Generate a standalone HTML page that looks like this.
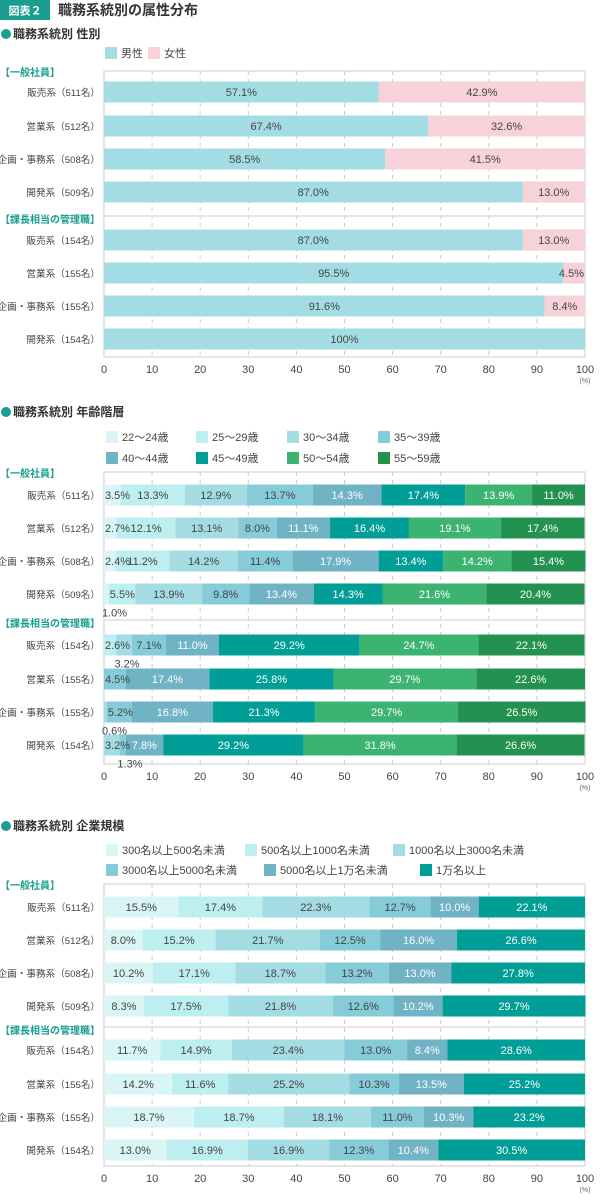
<!DOCTYPE html>
<html><head><meta charset="utf-8">
<style>
html,body{margin:0;padding:0;background:#fff;}
svg{display:block;font-family:"Liberation Sans","Noto Sans CJK JP",sans-serif;}
</style></head>
<body>
<svg id="svg" width="600" height="1204" viewBox="0 0 600 1204" xmlns="http://www.w3.org/2000/svg">
<rect x="0" y="0" width="50" height="20" fill="#1a9e8f"/>
<text x="25" y="14.5" fill="#fff" font-size="11" text-anchor="middle" font-weight="bold">図表２</text>
<text x="58" y="15" fill="#333" font-size="14" font-weight="bold">職務系統別の属性分布</text>
</svg>
<script>
const rowLabels = ["販売系（511名）","営業系（512名）","企画・事務系（508名）","開発系（509名）","販売系（154名）","営業系（155名）","企画・事務系（155名）","開発系（154名）"];
const xTicks = [0,10,20,30,40,50,60,70,80,90,100];

const genderSeries = ["男性","女性"];
const genderMale = [57.1,67.4,58.5,87.0,87.0,95.5,91.6,100];
const genderFemale = [42.9,32.6,41.5,13.0,13.0,4.5,8.4,0];

const ageSeries = ["22～24歳","25～29歳","30～34歳","35～39歳","40～44歳","45～49歳","50～54歳","55～59歳"];
const age22 = [3.5,2.7,2.4,1.0,0,0,0,0];
const age25 = [13.3,12.1,11.2,5.5,2.6,0,0,0];
const age30 = [12.9,13.1,14.2,13.9,3.2,0,0.6,3.2];
const age35 = [13.7,8.0,11.4,9.8,7.1,4.5,5.2,1.3];
const age40 = [14.3,11.1,17.9,13.4,11.0,17.4,16.8,7.8];
const age45 = [17.4,16.4,13.4,14.3,29.2,25.8,21.3,29.2];
const age50 = [13.9,19.1,14.2,21.6,24.7,29.7,29.7,31.8];
const age55 = [11.0,17.4,15.4,20.4,22.1,22.6,26.5,26.6];

const sizeSeries = ["300名以上500名未満","500名以上1000名未満","1000名以上3000名未満","3000名以上5000名未満","5000名以上1万名未満","1万名以上"];
const size300 = [15.5,8.0,10.2,8.3,11.7,14.2,18.7,13.0];
const size500 = [17.4,15.2,17.1,17.5,14.9,11.6,18.7,16.9];
const size1000 = [22.3,21.7,18.7,21.8,23.4,25.2,18.1,16.9];
const size3000 = [12.7,12.5,13.2,12.6,13.0,10.3,11.0,12.3];
const size5000 = [10.0,16.0,13.0,10.2,8.4,13.5,10.3,10.4];
const size10000 = [22.1,26.6,27.8,29.7,28.6,25.2,23.2,30.5];

const NS="http://www.w3.org/2000/svg";
const svg=document.getElementById('svg');
const PL=104, PR=585;
function xs(v){return PL+(PR-PL)*v/100;}
function mk(tag,attrs,parent){const e=document.createElementNS(NS,tag);for(const k in attrs)e.setAttribute(k,attrs[k]);(parent||svg).appendChild(e);return e;}
function txt(x,y,s,attrs,parent){const e=mk('text',Object.assign({x:x,y:y},attrs),parent);e.textContent=s;return e;}

function chart(cfg){
  const g=mk('g',{});
  
  
  const dot=mk('circle',{cx:6,cy:cfg.titleY-4,r:5,fill:'#1a9e8f'},g);
  
  
  const t=txt(13,cfg.titleY,cfg.title,{'font-size':12,'font-weight':'bold',fill:'#333'},g);
  
  
  cfg.series.forEach((s,i)=>{
    const p=cfg.legendPos[i];
    const sw=mk('rect',{x:p[0],y:p[1]-10,width:12,height:12,fill:cfg.colors[i]},g);
    
    
    const lt=txt(p[0]+16,p[1],s,{'font-size':11,fill:'#444'},g);
    
    
  });
  const fr=mk('rect',{x:PL,y:cfg.top,width:PR-PL,height:cfg.bottom-cfg.top,fill:'none',stroke:'#ddd','stroke-width':1.5},g);
  
  
  xTicks.forEach(v=>{
    if(v>0&&v<100){
      const l=mk('line',{x1:xs(v),x2:xs(v),y1:cfg.top,y2:cfg.bottom,stroke:'#ccc','stroke-dasharray':'4,4'},g);
      
      
    }
    const tl=txt(xs(v),cfg.bottom+16,String(v),{'font-size':11,fill:'#444','text-anchor':'middle'},g);
    
    
  });
  const un=txt(PR,cfg.bottom+26,'(%)',{'font-size':7,fill:'#666','text-anchor':'middle'},g);
  
  
  const sep=mk('line',{x1:PL,x2:PR,y1:cfg.sep,y2:cfg.sep,stroke:'#ddd','stroke-width':1.5},g);
  
  
  const g1=txt(0,cfg.top+5,'【一般社員】',{'font-size':10,'font-weight':'bold',fill:'#1a9e8f'},g);
  
  
  const g2=txt(0,cfg.sep+7,'【課長相当の管理職】',{'font-size':10,'font-weight':'bold',fill:'#1a9e8f'},g);
  
  
  const H=21;
  const labelLayer=mk('g',{},g);
  
  
  cfg.rows.forEach((lab,r)=>{
    const cy=cfg.rowY[r];
    const rl=txt(100,cy+4,lab,{'font-size':9.6,fill:'#444','text-anchor':'end'},g);
    
    
    let acc=0, prevNarrow=false;
    cfg.values.forEach((arr,i)=>{
      const v=arr[r];
      if(!v){return;}
      const x0=xs(acc),x1=xs(acc+v);
      const b=mk('rect',{x:x0,y:cy-H/2,width:x1-x0,height:H,fill:cfg.colors[i]},g);
      
      
      const s=(v===100?'100':v.toFixed(1))+'%';
      const w=x1-x0;
      let lx,ly=cy+4,anchor='middle',col=cfg.textColors[i];
      const narrow=w<28;
      if(v<2||(narrow&&prevNarrow)){lx=x0-2;ly=cy+H/2+12;anchor='start';col='#444';prevNarrow=false;}
      else if(narrow){
        if(i===cfg.values.length-1){lx=x1-1;anchor='end';}
        else {lx=x0+1;anchor='start';}
        prevNarrow=true;
      }
      else {lx=(x0+x1)/2;prevNarrow=false;}
      const vl=txt(lx,ly,s,{'font-size':11,fill:col,'text-anchor':anchor},labelLayer);
      
      
      acc+=v;
    });
  });
  g.appendChild(labelLayer);
}

chart({name:'gender-chart',title:'職務系統別 性別',titleY:38,series:genderSeries,
  colors:['#a3dde3','#f7d2d8'],textColors:['#444','#444'],
  legendPos:[[105,57],[148,57]],top:71,bottom:357,sep:216,
  rows:rowLabels,rowY:[92,126,159,192,240,273,306,339],values:[genderMale,genderFemale]});

chart({name:'age-chart',title:'職務系統別 年齢階層',titleY:416,series:ageSeries,
  colors:['#d9f5f5','#bdeef0','#a3dde3','#85ccd8','#6fb3c4','#009e96','#3cb371','#23914f'],
  textColors:['#444','#444','#444','#444','#fff','#fff','#fff','#fff'],
  legendPos:[[106,441],[196,441],[287,441],[378,441],[106,462],[196,462],[287,462],[378,462]],
  top:472,bottom:764,sep:620,
  rows:rowLabels,rowY:[495,528,561,594,645,679,712,745],
  values:[age22,age25,age30,age35,age40,age45,age50,age55]});

chart({name:'company-size-chart',title:'職務系統別 企業規模',titleY:830,series:sizeSeries,
  colors:['#d9f5f5','#bdeef0','#a3dde3','#85ccd8','#6fb3c4','#009e96'],
  textColors:['#444','#444','#444','#444','#fff','#fff'],
  legendPos:[[106,854],[245,854],[393,854],[106,874],[264,874],[420,874]],
  top:884,bottom:1166,sep:1027,
  rows:rowLabels,rowY:[907,940,973,1006,1050,1084,1117,1150],
  values:[size300,size500,size1000,size3000,size5000,size10000]});
</script>
</body></html>
